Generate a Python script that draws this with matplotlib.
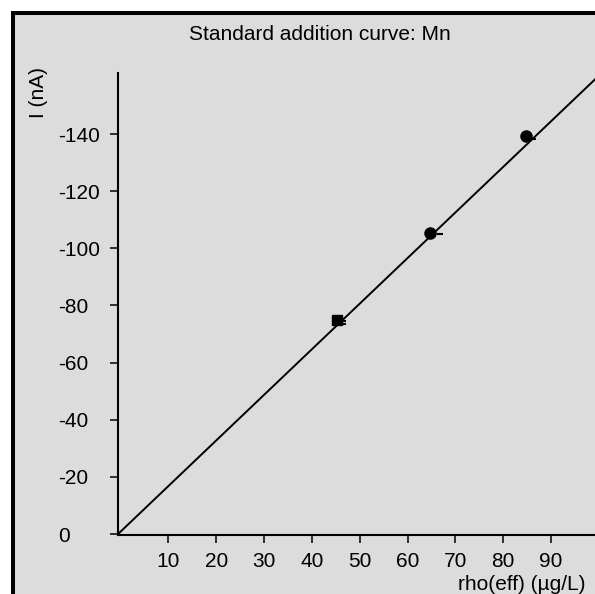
import matplotlib
matplotlib.use("Agg")
import matplotlib.pyplot as plt
import numpy as np
from matplotlib.patches import Rectangle

# ── data ──────────────────────────────────────────────────────────────────────
sample_x = [45.3]            # square: sample point
sample_y = [-74.9]
add_x = [64.7, 84.8]         # circles: standard additions
add_y = [-105.4, -139.3]
rep_x = [46.5, 46.5, 66.8, 86.2]   # short dashes next to the markers
rep_y = [-74.7, -73.5, -105.1, -138.3]
fit_slope = -1.597
fit_intercept = -0.8

x_ticks = [10, 20, 30, 40, 50, 60, 70, 80, 90]
y_ticks = [0, -20, -40, -60, -80, -100, -120, -140]

W, H = 595, 594
BG = "#dcdcdc"
plt.rcParams["font.family"] = ["Liberation Sans", "DejaVu Sans"]
plt.rcParams["axes.unicode_minus"] = False
FS = 15

fig = plt.figure(figsize=(W / 100, H / 100), dpi=100)
fig.patch.set_facecolor("white")

# gray panel with thick black frame (right/bottom run off the picture)
fig.add_artist(Rectangle((12.5 / W, -0.05), 1.1, (H - 13) / H + 0.05,
                         transform=fig.transFigure, facecolor=BG,
                         edgecolor="black", lw=2.9, zorder=0))

ax = fig.add_axes([118 / W, (H - 535) / H, 481 / W, 462 / H])
ax.set_facecolor("none")
ax.set_xlim(-0.52, 100)
ax.set_ylim(0.35, -161.4)

xs = np.array([-0.52, 100])
ax.plot(xs, fit_intercept + fit_slope * xs, color="black", lw=1.4)
ax.plot(sample_x, sample_y, "s", color="black", ms=7.5, clip_on=False)
ax.plot(add_x, add_y, "o", color="black", ms=8, clip_on=False)
ax.plot(rep_x, rep_y, "_", color="black", ms=5, mew=1.5, clip_on=False)

for s in ("top", "right"):
    ax.spines[s].set_visible(False)
for s in ("left", "bottom"):
    ax.spines[s].set_linewidth(1.5)

ax.set_xticks(x_ticks)
ax.set_yticks(y_ticks)
ax.tick_params(axis="x", direction="out", length=6, width=1.1, pad=6, labelsize=FS)
ax.tick_params(axis="y", direction="out", length=6, width=1.1, pad=37, labelsize=FS)
for lab in ax.get_yticklabels():
    lab.set_horizontalalignment("left")

fig.text(320 / W, 1 - 35 / H, "Standard addition curve: Mn", ha="center",
         va="center", fontsize=FS)
fig.text(39 / W, 1 - 93 / H, "I (nA)", rotation=90, ha="center",
         va="center", fontsize=FS)
fig.text(458 / W, 1 - 575 / H, "rho(eff) (µg/L)", ha="left", va="top",
         fontsize=FS)

fig.savefig("out.png", dpi=100)
